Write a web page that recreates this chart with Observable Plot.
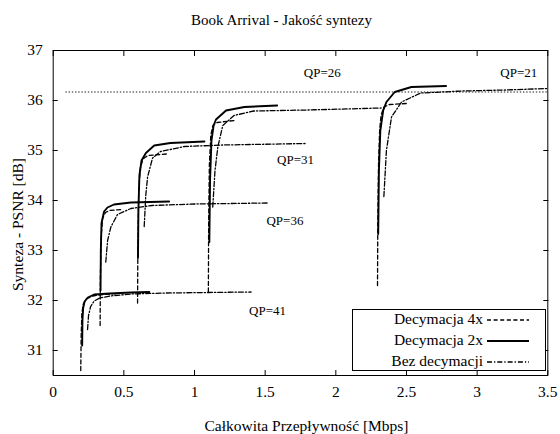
<!DOCTYPE html>
<html>
<head>
<meta charset="utf-8">
<script src="https://cdn.jsdelivr.net/npm/d3@7"></script>
<script src="https://cdn.jsdelivr.net/npm/@observablehq/plot@0.6"></script>
<style>
  body { margin: 0; background: #fff; }
  #wrap { position: relative; width: 560px; height: 434px; }
  #legend { position: absolute; left: 0; top: 0; }
</style>
</head>
<body>
<div id="wrap"></div>
<script>
// ---------- data ----------
const title = "Book Arrival - Jakość syntezy";
const xLabel = "Całkowita Przepływność [Mbps]";
const yLabel = "Synteza - PSNR [dB]";
const xTicks = [0, 0.5, 1, 1.5, 2, 2.5, 3, 3.5];
const yTicks = [31, 32, 33, 34, 35, 36, 37];
const seriesNames = ["Decymacja 4x", "Decymacja 2x", "Bez decymacji"];
const qpNames = ["QP=41", "QP=36", "QP=31", "QP=26", "QP=21"];
const qpLabelX = [1.517, 1.64, 1.715, 1.904, 3.295];
const qpLabelY = [31.79, 33.59, 34.81, 36.55, 36.55];
const refLineY = 36.17;
const refLineX = [0.09, 3.5];

// Decymacja 4x (dashed)
const dec4x_qp41 = [[0.195,30.6],[0.198,31.3],[0.203,31.75],[0.213,31.93],[0.235,32.03],[0.28,32.09],[0.35,32.12],[0.45,32.14]];
const dec4x_qp36 = [[0.332,31.5],[0.334,32.5],[0.34,33.3],[0.35,33.65],[0.37,33.76],[0.4,33.8],[0.48,33.82]];
const dec4x_qp31 = [[0.597,31.95],[0.599,33.0],[0.605,34.2],[0.617,34.65],[0.635,34.83],[0.67,34.9],[0.8,34.93]];
const dec4x_qp26 = [[1.098,32.17],[1.1,33.5],[1.105,34.7],[1.115,35.3],[1.13,35.5],[1.16,35.56],[1.28,35.6]];
const dec4x_qp21 = [[2.295,32.3],[2.297,33.5],[2.302,34.7],[2.31,35.4],[2.32,35.7],[2.34,35.87],[2.38,35.92],[2.5,35.94]];

// Decymacja 2x (solid)
const dec2x_qp41 = [[0.205,31.1],[0.207,31.6],[0.212,31.85],[0.222,31.98],[0.245,32.06],[0.29,32.12],[0.4,32.14],[0.55,32.16],[0.68,32.17]];
const dec2x_qp36 = [[0.335,32.2],[0.337,33.0],[0.342,33.55],[0.36,33.78],[0.384,33.86],[0.43,33.92],[0.55,33.96],[0.82,33.98]];
const dec2x_qp31 = [[0.6,32.85],[0.603,33.8],[0.61,34.5],[0.625,34.8],[0.656,34.95],[0.715,35.1],[0.83,35.15],[1.07,35.18]];
const dec2x_qp26 = [[1.105,33.17],[1.11,34.4],[1.12,35.2],[1.135,35.5],[1.152,35.62],[1.223,35.8],[1.353,35.87],[1.585,35.9]];
const dec2x_qp21 = [[2.3,33.33],[2.305,34.6],[2.315,35.4],[2.335,35.8],[2.358,35.97],[2.417,36.17],[2.535,36.27],[2.78,36.29]];

// Bez decymacji (dash-dot)
const bez_qp41 = [[0.243,31.42],[0.25,31.7],[0.265,31.88],[0.29,31.99],[0.33,32.05],[0.4,32.09],[0.55,32.13],[0.8,32.15],[1.1,32.16],[1.4,32.17]];
const bez_qp36 = [[0.372,32.77],[0.385,33.2],[0.408,33.47],[0.455,33.72],[0.55,33.84],[0.7,33.9],[1.0,33.93],[1.52,33.95]];
const bez_qp31 = [[0.644,33.48],[0.655,34.1],[0.668,34.47],[0.703,34.85],[0.76,34.98],[0.93,35.08],[1.2,35.11],[1.79,35.14]];
const bez_qp26 = [[1.129,33.87],[1.145,34.6],[1.165,35.07],[1.2,35.5],[1.28,35.7],[1.42,35.79],[1.8,35.81],[2.32,35.85]];
const bez_qp21 = [[2.34,34.08],[2.358,35.0],[2.394,35.67],[2.465,35.97],[2.6,36.15],[2.89,36.19],[3.2,36.21],[3.5,36.24]];

// ---------- build tables ----------
function rows(groups) {
  const out = [];
  groups.forEach((g, gi) => g.forEach(([x, y]) => out.push({qp: qpNames[gi], x, y})));
  return out;
}
const rows4 = rows([dec4x_qp41, dec4x_qp36, dec4x_qp31, dec4x_qp26, dec4x_qp21]);
const rows2 = rows([dec2x_qp41, dec2x_qp36, dec2x_qp31, dec2x_qp26, dec2x_qp21]);
const rowsB = rows([bez_qp41, bez_qp36, bez_qp31, bez_qp26, bez_qp21]);
const labelRows = qpNames.map((t, i) => ({t, x: qpLabelX[i], y: qpLabelY[i]}));

const styles = [
  {strokeWidth: 1.3, dash: "4,2.6"},
  {strokeWidth: 1.9, dash: null},
  {strokeWidth: 1.3, dash: "5,2,1.3,2"}
];
const serif = '"Liberation Serif", "Times New Roman", serif';
const fmt = d => String(d);

const chart = Plot.plot({
  width: 560, height: 434,
  marginLeft: 52.7, marginRight: 12.7, marginTop: 50, marginBottom: 59,
  style: {fontFamily: serif, background: "#fff", color: "#000", overflow: "visible"},
  x: {domain: [0, 3.5]},
  y: {domain: [30.5, 37]},
  marks: [
    Plot.ruleY([{y: refLineY, x1: refLineX[0], x2: refLineX[1]}], {y: "y", x1: "x1", x2: "x2", stroke: "#000", strokeWidth: 0.9, strokeDasharray: "1.4,1.8"}),
    Plot.line(rows4, {x: "x", y: "y", z: "qp", stroke: "#000", strokeWidth: styles[0].strokeWidth, strokeDasharray: styles[0].dash, clip: true}),
    Plot.line(rows2, {x: "x", y: "y", z: "qp", stroke: "#000", strokeWidth: styles[1].strokeWidth, clip: true}),
    Plot.line(rowsB, {x: "x", y: "y", z: "qp", stroke: "#000", strokeWidth: styles[2].strokeWidth, strokeDasharray: styles[2].dash, clip: true}),
    Plot.text(labelRows, {x: "x", y: "y", text: "t", fontSize: 13, fontFamily: serif, fill: "#000"}),
    Plot.frame({stroke: "#000", strokeWidth: 1}),
    Plot.axisX(xTicks, {anchor: "bottom", tickSize: 0, tickPadding: 10, fontSize: 15.5, fontFamily: serif, tickFormat: fmt, fill: "#000", label: null}),
    Plot.axisX(xTicks, {anchor: "bottom", tickSize: -5, tickFormat: () => "", label: null}),
    Plot.axisX(xTicks, {anchor: "top", tickSize: -5, tickFormat: () => "", label: null}),
    Plot.axisY(yTicks, {anchor: "left", tickSize: 0, tickPadding: 10.5, fontSize: 15.5, fontFamily: serif, tickFormat: fmt, fill: "#000", label: null}),
    Plot.axisY(yTicks, {anchor: "left", tickSize: -5, tickFormat: () => "", label: null}),
    Plot.axisY(yTicks, {anchor: "right", tickSize: -5, tickFormat: () => "", label: null}),
    Plot.text([title], {frameAnchor: "top", textAnchor: "middle", lineAnchor: "middle", dy: -30.5, dx: -19, fontSize: 15, fontFamily: serif, fill: "#000"}),
    Plot.text([xLabel], {frameAnchor: "bottom", textAnchor: "middle", lineAnchor: "middle", dy: 51, dx: 6, fontSize: 15.5, fontFamily: serif, fill: "#000"}),
    Plot.text([yLabel], {frameAnchor: "left", textAnchor: "middle", lineAnchor: "middle", dx: -35.5, dy: 11.5, rotate: -90, fontSize: 15.5, fontFamily: serif, fill: "#000"})
  ]
});
document.getElementById("wrap").appendChild(chart);

// ---------- legend (overlay) ----------
const lg = d3.select("#wrap").append("svg")
  .attr("id", "legend").attr("width", 560).attr("height", 434)
  .style("pointer-events", "none");
const box = {x: 352.5, y: 309.5, w: 193, h: 61};
lg.append("rect").attr("x", box.x).attr("y", box.y).attr("width", box.w).attr("height", box.h)
  .attr("fill", "#fff").attr("stroke", "#000").attr("stroke-width", 1);
seriesNames.forEach((name, i) => {
  const cy = 319 + i * 21;
  lg.append("text").attr("x", 483).attr("y", cy).attr("dy", "0.35em")
    .attr("text-anchor", "end").attr("font-family", serif).attr("font-size", 15.5)
    .attr("fill", "#000").text(name);
  const ln = lg.append("line").attr("x1", 487).attr("x2", 529).attr("y1", cy + 1).attr("y2", cy + 1)
    .attr("stroke", "#000").attr("stroke-width", styles[i].strokeWidth);
  if (styles[i].dash) ln.attr("stroke-dasharray", styles[i].dash);
});
</script>
</body>
</html>
